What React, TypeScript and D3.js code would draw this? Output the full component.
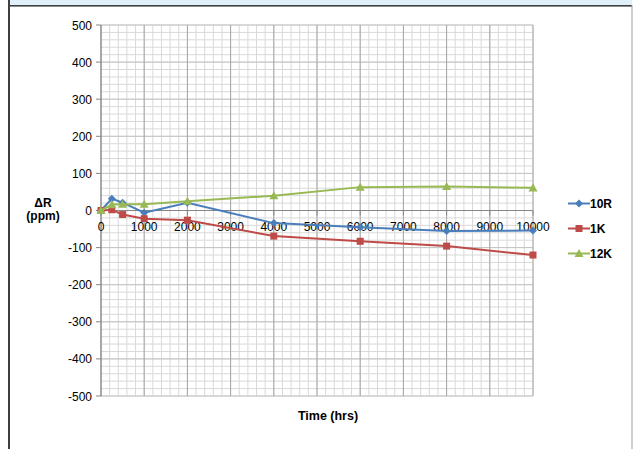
import React from "react";
import * as d3 from "d3";

const times = [0, 250, 500, 1000, 2000, 4000, 6000, 8000, 10000];
const r10 = [0, 32, 21, -6, 21, -34, -45, -55, -54];
const r1k = [0, 2, -11, -22, -26, -69, -83, -96, -120];
const r12k = [0, 16, 17, 17, 25, 40, 63, 65, 61];
const seriesNames = ["10R", "1K", "12K"];
const seriesColors = ["#4a7ebb", "#be4b48", "#98b954"];
const xTicks = [0, 1000, 2000, 3000, 4000, 5000, 6000, 7000, 8000, 9000, 10000];
const yTicks = [500, 400, 300, 200, 100, 0, -100, -200, -300, -400, -500];

const W = 633;
const H = 449;
const font = "'Liberation Sans', Arial, sans-serif";

function Marker({ kind, x, y, color }: { kind: number; x: number; y: number; color: string }) {
  if (kind === 0) {
    const s = 4;
    return <path d={`M${x},${y - s}L${x + s},${y}L${x},${y + s}L${x - s},${y}Z`} fill={color} />;
  }
  if (kind === 1) {
    return <rect x={x - 3.5} y={y - 3.5} width={7} height={7} fill={color} />;
  }
  const s = 4.5;
  return <path d={`M${x},${y - s}L${x + s},${y + s * 0.8}L${x - s},${y + s * 0.8}Z`} fill={color} />;
}

export default function App() {
  const x = d3.scaleLinear().domain([0, 10000]).range([101, 533]);
  const y = d3.scaleLinear().domain([-500, 500]).range([396, 25]);
  const series = [r10, r1k, r12k];
  const line = d3
    .line<number>()
    .x((_, i) => x(times[i]))
    .y((d) => y(d));

  const minorX = d3.range(0, 10001, 200);
  const minorY = d3.range(-500, 501, 20);

  return (
    <svg
      width={W}
      height={H}
      style={{ position: "absolute", left: 0, top: 0, background: "#fff" }}
      fontFamily={font}
    >
      <rect x={0} y={0} width={W} height={H} fill="#fff" />
      <rect x={10} y={0} width={622} height={5} fill="#dff0fb" />
      <rect x={10} y={5} width={622} height={1.6} fill="#404040" />
      <rect x={8} y={0} width={2} height={H} fill="#404040" />
      <rect x={631.5} y={5} width={1} height={H} fill="#a0a0a0" />

      {/* minor grid */}
      {minorY.map((v) => (
        <line key={"my" + v} x1={x(0)} x2={x(10000)} y1={y(v)} y2={y(v)} stroke="#d9d9d9" strokeWidth={1} />
      ))}
      {minorX.map((v) => (
        <line key={"mx" + v} x1={x(v)} x2={x(v)} y1={y(500)} y2={y(-500)} stroke="#d9d9d9" strokeWidth={1} />
      ))}
      {/* major grid */}
      {yTicks.map((v) => (
        <line key={"gy" + v} x1={x(0)} x2={x(10000)} y1={y(v)} y2={y(v)} stroke="#c4c4c4" strokeWidth={1} />
      ))}
      {xTicks.map((v) => (
        <line key={"gx" + v} x1={x(v)} x2={x(v)} y1={y(500)} y2={y(-500)} stroke="#a6a6a6" strokeWidth={1} />
      ))}

      {/* axes */}
      <line x1={x(0)} x2={x(0)} y1={y(500)} y2={y(-500)} stroke="#868686" strokeWidth={1} />
      <line x1={x(0)} x2={x(10000)} y1={y(0)} y2={y(0)} stroke="#868686" strokeWidth={1} />
      {yTicks.map((v) => (
        <g key={"yt" + v}>
          <line x1={x(0) - 5} x2={x(0)} y1={y(v)} y2={y(v)} stroke="#868686" />
          <text x={x(0) - 9} y={y(v) + 4.5} fontSize={12} textAnchor="end" fill="#000">
            {v}
          </text>
        </g>
      ))}
      {xTicks.map((v) => (
        <g key={"xt" + v}>
          <line x1={x(v)} x2={x(v)} y1={y(0)} y2={y(0) + 5} stroke="#868686" />
          <text x={x(v)} y={y(0) + 20} fontSize={12} textAnchor="middle" fill="#000">
            {v}
          </text>
        </g>
      ))}

      {/* series */}
      {series.map((s, si) => (
        <g key={"s" + si}>
          <path d={line(s) || ""} fill="none" stroke={seriesColors[si]} strokeWidth={2} />
          {s.map((v, i) => (
            <Marker key={i} kind={si} x={x(times[i])} y={y(v)} color={seriesColors[si]} />
          ))}
        </g>
      ))}

      {/* axis titles */}
      <text x={43} y={207} fontSize={12} fontWeight="bold" textAnchor="middle">
        ΔR
      </text>
      <text x={43} y={220} fontSize={12} fontWeight="bold" textAnchor="middle">
        (ppm)
      </text>
      <text x={328} y={419.5} fontSize={12.5} fontWeight="bold" textAnchor="middle">
        Time (hrs)
      </text>

      {/* legend */}
      {seriesNames.map((n, i) => {
        const ly = 203.5 + i * 25;
        return (
          <g key={"lg" + n}>
            <line x1={568} x2={590} y1={ly} y2={ly} stroke={seriesColors[i]} strokeWidth={2} />
            <Marker kind={i} x={579} y={ly} color={seriesColors[i]} />
            <text x={590} y={ly + 4.5} fontSize={12} fontWeight="bold">
              {n}
            </text>
          </g>
        );
      })}
    </svg>
  );
}
